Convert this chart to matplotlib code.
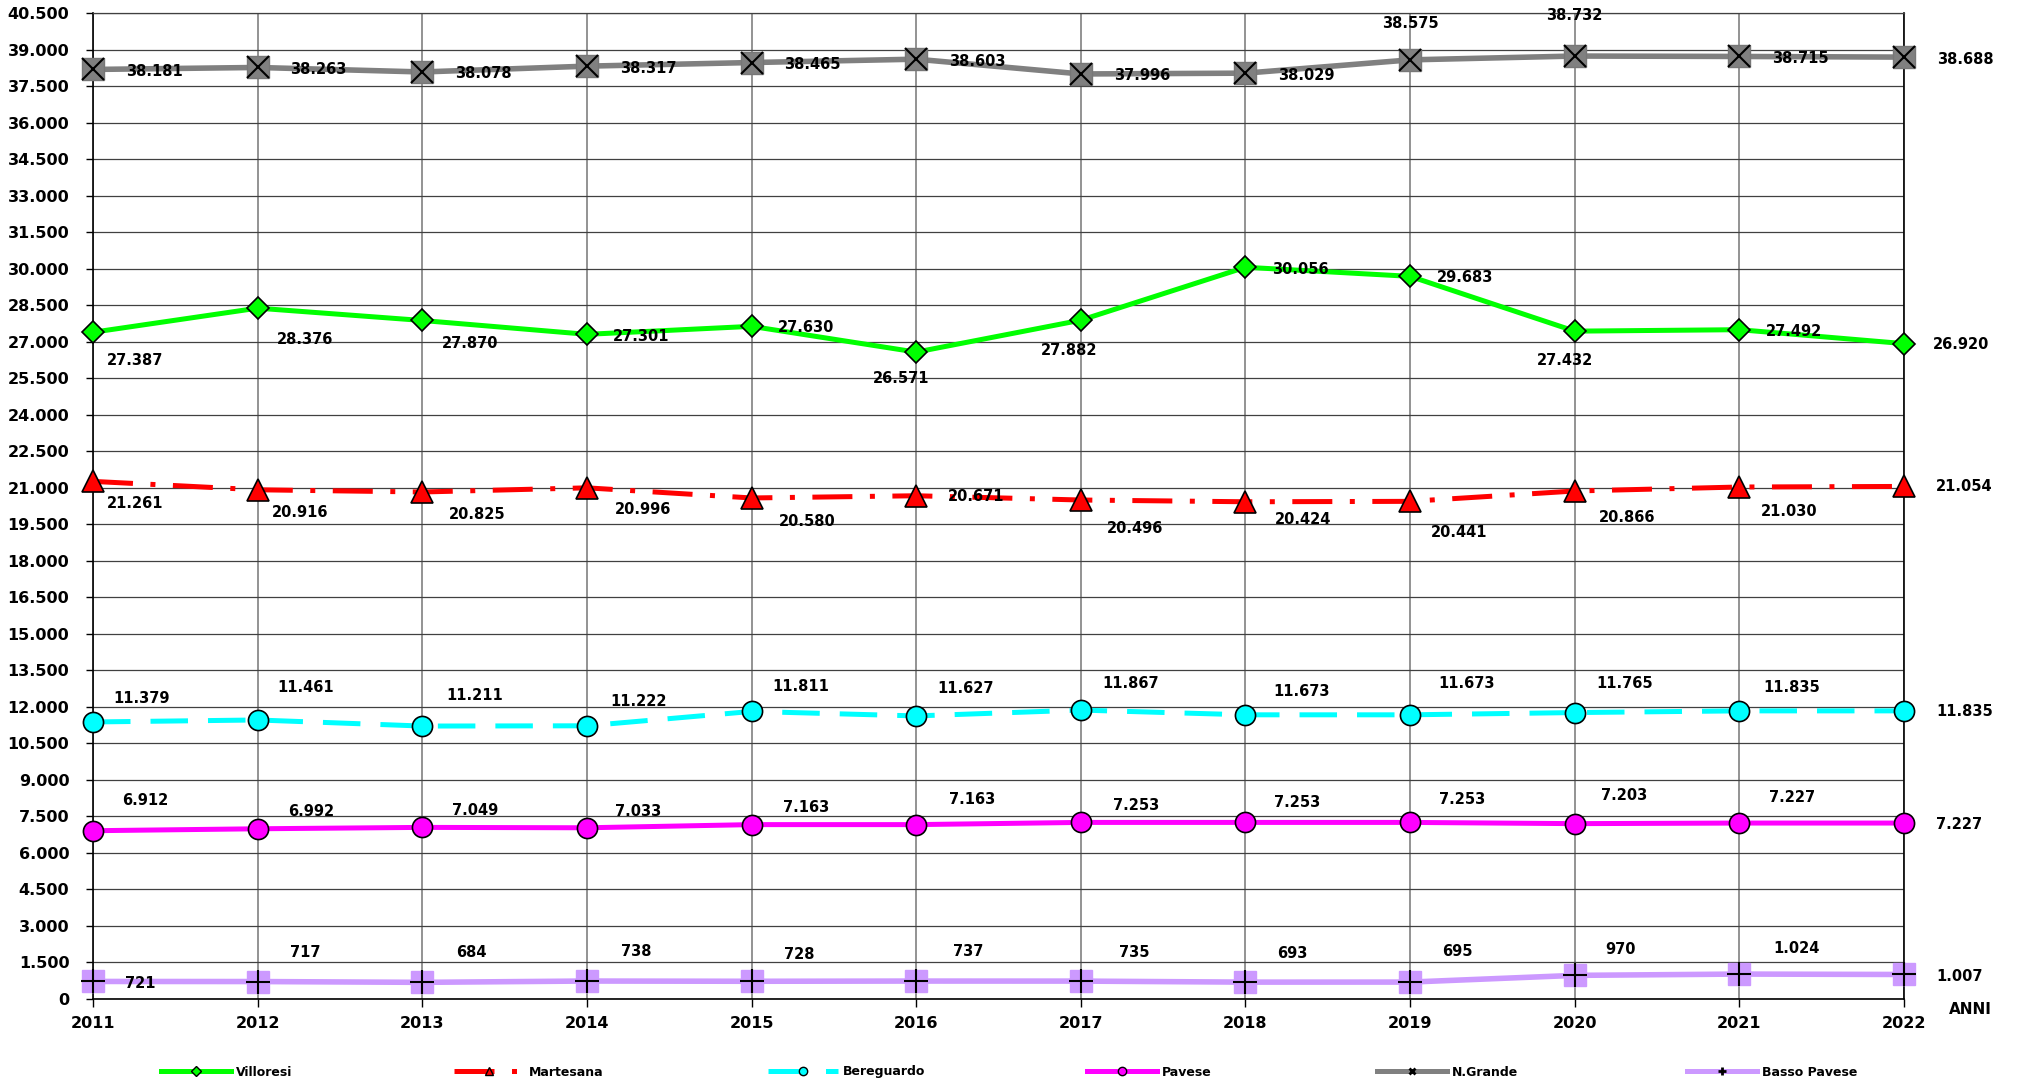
import matplotlib
matplotlib.use("Agg")
import matplotlib.pyplot as plt
from matplotlib.lines import Line2D
from matplotlib.ticker import FixedLocator, FuncFormatter

plt.rcParams['font.family'] = ['DejaVu Sans']
plt.rcParams['font.weight'] = 'bold'

# ---------------- data ----------------
years = [2011, 2012, 2013, 2014, 2015, 2016, 2017, 2018, 2019, 2020, 2021, 2022]
villoresi = [27387, 28376, 27870, 27301, 27630, 26571, 27882, 30056, 29683, 27432, 27492, 26920]
martesana = [21261, 20916, 20825, 20996, 20580, 20671, 20496, 20424, 20441, 20866, 21030, 21054]
bereguardo = [11379, 11461, 11211, 11222, 11811, 11627, 11867, 11673, 11673, 11765, 11835, 11835]
pavese = [6912, 6992, 7049, 7033, 7163, 7163, 7253, 7253, 7253, 7203, 7227, 7227]
n_grande = [38181, 38263, 38078, 38317, 38465, 38603, 37996, 38029, 38575, 38732, 38715, 38688]
basso_pavese = [721, 717, 684, 738, 728, 737, 735, 693, 695, 970, 1024, 1007]
y_ticks = list(range(0, 40501, 1500))
series_names = ["Villoresi", "Martesana", "Bereguardo", "Pavese", "N.Grande", "Basso Pavese"]
x_label = "ANNI"

# ---------------- label offsets (pixels, dx right, dy down) ----------------
off_villoresi = [(42, 28), (47, 31), (48, 23), (54, 2), (55, 1), (-15, 26),
                 (-12, 30), (55, 2), (55, 1), (-10, 29), (55, 2), (57, 1)]
off_martesana = [(42, 22), (42, 23), (55, 22), (56, 22), (56, 24), (60, 1),
                 (54, 28), (58, 18), (49, 31), (52, 26), (50, 24), (60, 0)]
off_bereguardo = [(49, -23), (48, -32), (52, -31), (52, -24), (49, -25), (49, -27),
                  (50, -27), (56, -23), (56, -31), (50, -29), (52, -23), (61, 1)]
off_pavese = [(52, -30), (54, -17), (53, -17), (51, -16), (55, -17), (56, -25),
              (55, -17), (52, -20), (52, -23), (49, -28), (53, -26), (55, 1)]
off_ngrande = [(61, 2), (61, 2), (61, 2), (61, 2), (61, 2), (61, 2),
               (61, 2), (61, 2), (0, -36), (0, -41), (61, 2), (61, 2)]
off_basso = [(47, 2), (48, -29), (49, -30), (49, -30), (48, -27), (52, -30),
             (53, -29), (47, -29), (47, -31), (46, -26), (57, -26), (56, 2)]


def fmt(v):
    return f"{int(v):,}".replace(",", ".")


W, H = 2018, 1085
fig = plt.figure(figsize=(W / 100, H / 100), dpi=100)
ax = fig.add_axes([93 / W, 86 / H, (1904 - 93) / W, 986 / H])

LW = 3.6
MEW = 1.2

# Villoresi
ax.plot(years, villoresi, color='#00FF00', lw=LW, marker='D', ms=11,
        mfc='#00FF00', mec='black', mew=MEW, clip_on=False, zorder=5)
# Martesana
ax.plot(years, martesana, color='#FF0000', lw=LW, dashes=[8, 3.5, 1, 3.5],
        marker='^', ms=16, mfc='#FF0000', mec='black', mew=MEW, clip_on=False, zorder=5)
# Bereguardo
ax.plot(years, bereguardo, color='#00FFFF', lw=LW, dashes=[7.5, 4],
        marker='o', ms=14.5, mfc='#00FFFF', mec='black', mew=MEW, clip_on=False, zorder=5)
# Pavese
ax.plot(years, pavese, color='#FF00FF', lw=LW, marker='o', ms=14.5,
        mfc='#FF00FF', mec='black', mew=MEW, clip_on=False, zorder=5)
# N.Grande
ax.plot(years, n_grande, color='#808080', lw=LW + 0.4, marker='s', ms=16,
        mfc='#808080', mec='#777777', mew=1, clip_on=False, zorder=5)
ax.plot(years, n_grande, ls='none', marker='x', ms=16, mec='black', mew=1.5,
        clip_on=False, zorder=6)
# Basso Pavese
ax.plot(years, basso_pavese, color='#CC99FF', lw=LW + 0.4, marker='s', ms=16,
        mfc='#CC99FF', mec='#CC99FF', mew=1, clip_on=False, zorder=5)
ax.plot(years, basso_pavese, ls='none', marker='+', ms=17, mec='black', mew=1.5,
        clip_on=False, zorder=6)

# data labels
for vals, offs in [(villoresi, off_villoresi), (martesana, off_martesana),
                   (bereguardo, off_bereguardo), (pavese, off_pavese),
                   (n_grande, off_ngrande), (basso_pavese, off_basso)]:
    for x, y, (dx, dy) in zip(years, vals, offs):
        ax.annotate(fmt(y), (x, y), xytext=(dx, -dy), textcoords='offset pixels',
                    ha='center', va='center', fontsize=10.5, fontweight='bold',
                    annotation_clip=False, zorder=7)

# axes
ax.set_xlim(years[0], years[-1])
ax.set_ylim(y_ticks[0], y_ticks[-1])
ax.set_xticks(years)
ax.set_xticklabels([str(y) for y in years])
ax.yaxis.set_major_locator(FixedLocator(y_ticks))
ax.yaxis.set_major_formatter(FuncFormatter(lambda v, p: fmt(v)))
ax.set_axisbelow(True)
ax.yaxis.grid(True, color='#404040', lw=0.9)
ax.xaxis.grid(True, color='#808080', lw=1.2)
ax.tick_params(axis='y', direction='out', length=5, width=1, pad=12, labelsize=11.5)
ax.tick_params(axis='x', direction='out', length=6, width=1, pad=6, labelsize=11.5)
for s in ['left', 'bottom', 'right']:
    ax.spines[s].set_color('black')
    ax.spines[s].set_linewidth(1.2)
ax.spines['top'].set_color('#404040')
ax.spines['top'].set_linewidth(0.9)

fig.text(1970 / W, 1 - 1009 / H, x_label, ha='center', va='center',
         fontsize=11, fontweight='bold')

# legend
handles = [
    Line2D([], [], color='#00FF00', lw=LW, marker='D', ms=5, mfc='#00FF00', mec='black', mew=1),
    Line2D([], [], color='#FF0000', lw=LW, dashes=[8, 3.5, 1, 3.5], marker='^', ms=6,
           mfc='#FF0000', mec='black', mew=1),
    Line2D([], [], color='#00FFFF', lw=LW, dashes=[7.5, 4], marker='o', ms=6,
           mfc='#00FFFF', mec='black', mew=1),
    Line2D([], [], color='#FF00FF', lw=LW, marker='o', ms=6, mfc='#FF00FF', mec='black', mew=1),
    Line2D([], [], color='#808080', lw=LW, marker='x', ms=5, mec='black', mew=2),
    Line2D([], [], color='#CC99FF', lw=LW, marker='+', ms=6, mec='black', mew=2),
]
leg_x = [161, 454, 768, 1087, 1377, 1687]
for h, name, x in zip(handles, series_names, leg_x):
    fig.legend(handles=[h], labels=[name], loc='center left',
               bbox_to_anchor=(x / W, 1 - 1072 / H), frameon=False, fontsize=9,
               handlelength=5.6, handletextpad=0.4, borderpad=0, borderaxespad=0)

fig.savefig("out.png", dpi=100)
